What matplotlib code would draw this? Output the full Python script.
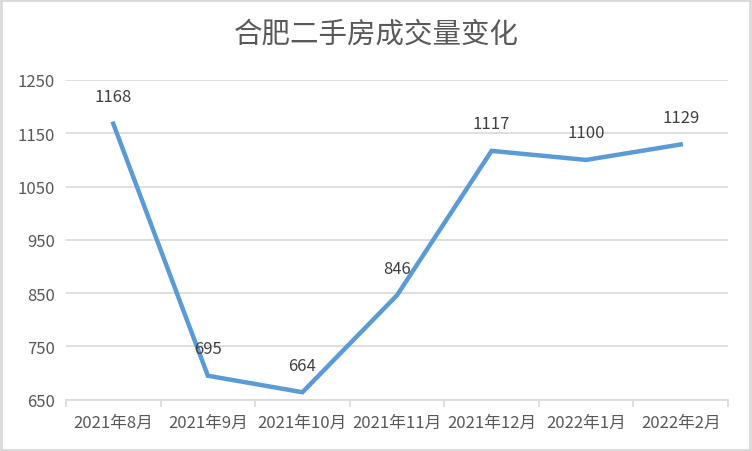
import matplotlib
matplotlib.use("Agg")
import matplotlib.pyplot as plt
import numpy as np

plt.rcParams['font.family'] = ['Noto Sans CJK SC', 'DejaVu Sans']

# data
months = ['2021年8月', '2021年9月', '2021年10月', '2021年11月',
          '2021年12月', '2022年1月', '2022年2月']
volume = [1168, 695, 664, 846, 1117, 1100, 1129]
y_ticks = [650, 750, 850, 950, 1050, 1150, 1250]

line_color = '#5B9BD5'
grid_color = '#D9D9D9'
text_color = '#595959'

fig = plt.figure(figsize=(7.52, 4.52), dpi=100)
ax = fig.add_axes([66/752, 1 - 400.7/452, (728 - 66)/752, (400.7 - 81)/452])

x = np.arange(len(months))
ax.plot(x, volume, color=line_color, lw=3.2, solid_joinstyle='miter', zorder=3)
for xi, v in zip(x, volume):
    ax.annotate(str(v), (xi, v), xytext=(0, 19.5), textcoords='offset points',
                ha='center', va='center', fontsize=12, color='#404040', zorder=4)

ax.set_xlim(-0.5, len(months) - 0.5)
ax.set_ylim(650, 1250)
ax.set_yticks(y_ticks)
ax.set_yticklabels([str(t) for t in y_ticks])
ax.set_xticks(x)
ax.set_xticklabels(months)
ax.set_xticks(np.arange(-0.5, len(months)), minor=True)

ax.grid(axis='y', color=grid_color, lw=1.2, zorder=0)
for s in ['top', 'right', 'left']:
    ax.spines[s].set_visible(False)
ax.spines['bottom'].set_color(grid_color)
ax.spines['bottom'].set_linewidth(1.2)

ax.tick_params(axis='y', length=0, pad=8, labelsize=12, labelcolor=text_color)
ax.tick_params(axis='x', which='major', length=0, pad=10.5, labelsize=12, labelcolor=text_color)
ax.tick_params(axis='x', which='minor', length=5, width=1.2, color=grid_color)

fig.text(0.5, 1 - 35/452, '合肥二手房成交量变化', ha='center', va='center',
         fontsize=20.5, color=text_color)

# light outer border like the chart frame
fig.patches.append(plt.Rectangle((0.001, 0.002), 0.997, 0.995, transform=fig.transFigure,
                                 fill=False, edgecolor=grid_color, lw=2))

fig.savefig('out.png', dpi=100)
